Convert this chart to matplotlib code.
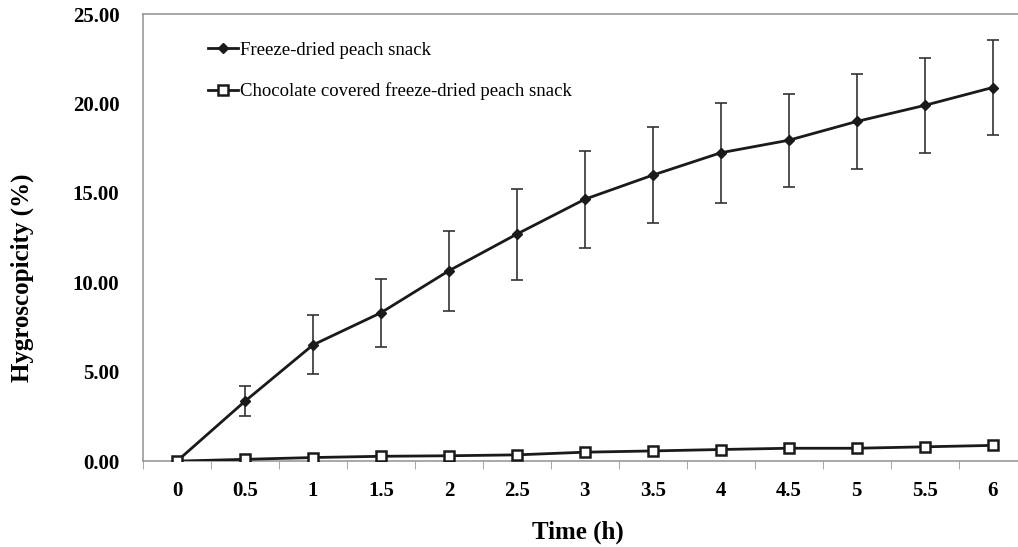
import numpy as np
import matplotlib
matplotlib.use('Agg')
import matplotlib.pyplot as plt

time_h = [0, 0.5, 1, 1.5, 2, 2.5, 3, 3.5, 4, 4.5, 5, 5.5, 6]
freeze_dried = [0.0, 3.35, 6.5, 8.3, 10.65, 12.7, 14.65, 16.0, 17.25, 17.95, 19.0, 19.9, 20.9]
freeze_dried_err = [0.0, 0.85, 1.65, 1.9, 2.25, 2.55, 2.7, 2.7, 2.8, 2.6, 2.65, 2.65, 2.65]
chocolate = [0.0, 0.1, 0.2, 0.27, 0.3, 0.35, 0.5, 0.57, 0.65, 0.72, 0.72, 0.8, 0.88]
y_ticks = [0, 5, 10, 15, 20, 25]
x_labels = ['0', '0.5', '1', '1.5', '2', '2.5', '3', '3.5', '4', '4.5', '5', '5.5', '6']

plt.rcParams['font.family'] = ['Liberation Serif', 'DejaVu Serif']

fig = plt.figure(figsize=(10.18, 5.47), dpi=100)
ax = fig.add_axes([0.1405, 0.157, 0.868, 0.817])

line_c = '#1a1a1a'
# error bars drawn separately so the legend handle stays a plain line
ax.errorbar(time_h, freeze_dried, yerr=freeze_dried_err, fmt='none',
            ecolor='#333333', elinewidth=1.2, capsize=4, capthick=1.2, zorder=2)
ax.plot(time_h, freeze_dried, color=line_c, lw=2, marker='D', ms=5,
        mfc=line_c, mec=line_c, label='Freeze-dried peach snack', zorder=3)
ax.plot(time_h, chocolate, color=line_c, lw=2, marker='s', ms=7,
        mfc='white', mec=line_c, mew=1.8,
        label='Chocolate covered freeze-dried peach snack', zorder=4)

ax.set_xlim(-0.25, 6.25)
ax.set_ylim(0, 25)
ax.set_xticks(time_h)
ax.set_xticklabels(x_labels)
ax.set_xticks(np.arange(-0.25, 6.3, 0.5), minor=True)
ax.set_yticks(y_ticks)
ax.set_yticklabels(['%.2f' % v for v in y_ticks])

ax.tick_params(axis='x', which='major', length=0, pad=14, labelsize=15)
ax.tick_params(axis='x', which='minor', length=6, direction='out', color='#999999')
ax.tick_params(axis='y', length=0, pad=17, labelsize=15)
for lab in ax.get_xticklabels() + ax.get_yticklabels():
    lab.set_fontweight('bold')

for s in ['left', 'bottom', 'top']:
    ax.spines[s].set_color('#999999')
    ax.spines[s].set_linewidth(1.2)
ax.spines['right'].set_visible(False)

ax.set_xlabel('Time (h)', fontsize=18, fontweight='bold', va='center')
ax.xaxis.set_label_coords(0.492, -0.159)
ax.set_ylabel('Hygroscopicity (%)', fontsize=18, fontweight='bold', va='center')
ax.yaxis.set_label_coords(-0.137, 0.41)

leg = ax.legend(loc='upper left', bbox_to_anchor=(0.065, 0.955), frameon=False,
                fontsize=13.5, handlelength=1.6, handletextpad=0.1,
                labelspacing=1.25, borderaxespad=0)

fig.savefig('out.png', dpi=100)
